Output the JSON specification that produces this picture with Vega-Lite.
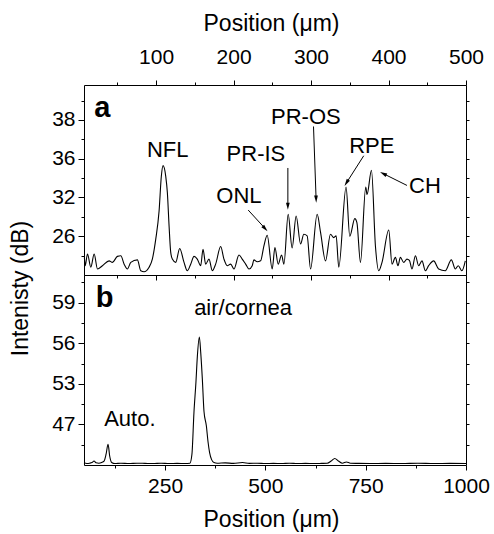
{
  "$schema": "https://vega.github.io/schema/vega-lite/v6.json",
  "padding": {"left": 8, "top": 11, "right": 5, "bottom": 5},
  "background": "white",
  "datasets": {
    "top": [
      {"pos": 7.5, "val": 9}, {"pos": 8.5, "val": 4.8}, {"pos": 11.5, "val": 10.8}, {"pos": 15.8, "val": 4.0},
      {"pos": 20.1, "val": 10.8}, {"pos": 24.4, "val": 3.1}, {"pos": 30.8, "val": 4.8}, {"pos": 39.4, "val": 7.3},
      {"pos": 43.7, "val": 6.5}, {"pos": 50.1, "val": 9.6}, {"pos": 54.5, "val": 9.9}, {"pos": 58.8, "val": 5.6},
      {"pos": 63, "val": 3.1}, {"pos": 67.4, "val": 6.5}, {"pos": 75.9, "val": 7.8}, {"pos": 80.3, "val": 2.2},
      {"pos": 84.5, "val": 1.7}, {"pos": 91, "val": 4.0}, {"pos": 95.2, "val": 8.2}, {"pos": 99.6, "val": 18.5},
      {"pos": 103.9, "val": 33}, {"pos": 106.8, "val": 50.9}, {"pos": 109, "val": 56.4}, {"pos": 112.5, "val": 50.9},
      {"pos": 114.6, "val": 42.4}, {"pos": 116.8, "val": 25.3}, {"pos": 118.9, "val": 11.8}, {"pos": 121, "val": 8.2},
      {"pos": 125.4, "val": 6.5}, {"pos": 130.5, "val": 13.7}, {"pos": 136.1, "val": 6.5}, {"pos": 140.3, "val": 2.2},
      {"pos": 144.7, "val": 5.6}, {"pos": 149, "val": 9.6}, {"pos": 153.2, "val": 8.2}, {"pos": 157.6, "val": 4.8},
      {"pos": 160.6, "val": 13.3}, {"pos": 164, "val": 5.6}, {"pos": 168.3, "val": 8.2}, {"pos": 172.6, "val": 2.2},
      {"pos": 176.9, "val": 5.6}, {"pos": 183.4, "val": 14.7}, {"pos": 187.6, "val": 8.2}, {"pos": 191.9, "val": 4.8},
      {"pos": 196.3, "val": 5.6}, {"pos": 200.5, "val": 3.1}, {"pos": 207, "val": 10.3}, {"pos": 211.2, "val": 8.2},
      {"pos": 215.6, "val": 5.6}, {"pos": 219.9, "val": 3.1}, {"pos": 224.1, "val": 4.8}, {"pos": 226.3, "val": 7.8},
      {"pos": 230.5, "val": 6.8}, {"pos": 234.9, "val": 7.3}, {"pos": 239.2, "val": 15}, {"pos": 243.4, "val": 20.5},
      {"pos": 249.9, "val": 3.1}, {"pos": 253.4, "val": 14.2}, {"pos": 257.6, "val": 5.6}, {"pos": 262, "val": 10.3},
      {"pos": 265, "val": 5.6}, {"pos": 270.5, "val": 31.3}, {"pos": 275.6, "val": 14}, {"pos": 280.8, "val": 30.4},
      {"pos": 286.5, "val": 16}, {"pos": 290.7, "val": 21}, {"pos": 295, "val": 20.2}, {"pos": 299.4, "val": 3.1},
      {"pos": 307.9, "val": 31.3}, {"pos": 312.3, "val": 22}, {"pos": 318.7, "val": 7.3}, {"pos": 325.1, "val": 21},
      {"pos": 329.4, "val": 19.3}, {"pos": 332.4, "val": 20.2}, {"pos": 335.8, "val": 4.0}, {"pos": 345.2, "val": 45.3},
      {"pos": 350, "val": 20}, {"pos": 356.5, "val": 29.1}, {"pos": 359.2, "val": 27}, {"pos": 363.8, "val": 6.5},
      {"pos": 370.6, "val": 45.3}, {"pos": 372.3, "val": 41.5}, {"pos": 378, "val": 54}, {"pos": 383.1, "val": 15},
      {"pos": 387.4, "val": 2.2}, {"pos": 391.6, "val": 6.5}, {"pos": 400.3, "val": 23.2}, {"pos": 404.5, "val": 5.6},
      {"pos": 408.9, "val": 9.1}, {"pos": 412.2, "val": 4.8}, {"pos": 415.3, "val": 9.1}, {"pos": 419.6, "val": 6.5},
      {"pos": 423.8, "val": 8.2}, {"pos": 427, "val": 7.5}, {"pos": 430.3, "val": 3.1}, {"pos": 434.7, "val": 9.9},
      {"pos": 438.9, "val": 4.8}, {"pos": 443.2, "val": 7.3}, {"pos": 447.6, "val": 2.2}, {"pos": 451.8, "val": 4.8},
      {"pos": 458.3, "val": 7.3}, {"pos": 464.7, "val": 3.1}, {"pos": 473.3, "val": 2.2}, {"pos": 481.1, "val": 7.8},
      {"pos": 486.2, "val": 3.1}, {"pos": 490, "val": 4.8}, {"pos": 494.7, "val": 2.2}, {"pos": 499.1, "val": 7.3}
    ],
    "bottom": [
      {"pos": 48, "val": 12}, {"pos": 55, "val": 8}, {"pos": 62, "val": 10}, {"pos": 68, "val": 14},
      {"pos": 73, "val": 22}, {"pos": 78, "val": 12}, {"pos": 85, "val": 10}, {"pos": 92, "val": 14},
      {"pos": 98, "val": 22}, {"pos": 103, "val": 60}, {"pos": 108, "val": 115}, {"pos": 112, "val": 50},
      {"pos": 117, "val": 14}, {"pos": 125, "val": 8}, {"pos": 140, "val": 10}, {"pos": 160, "val": 8},
      {"pos": 180, "val": 10}, {"pos": 200, "val": 9}, {"pos": 220, "val": 8}, {"pos": 240, "val": 10},
      {"pos": 260, "val": 8}, {"pos": 280, "val": 9}, {"pos": 300, "val": 8}, {"pos": 312, "val": 10},
      {"pos": 317, "val": 60}, {"pos": 322, "val": 290}, {"pos": 327, "val": 460}, {"pos": 330.5, "val": 602},
      {"pos": 335.5, "val": 709}, {"pos": 339, "val": 620}, {"pos": 343, "val": 473}, {"pos": 347, "val": 298},
      {"pos": 353, "val": 216}, {"pos": 357, "val": 130}, {"pos": 361, "val": 69}, {"pos": 366, "val": 30},
      {"pos": 372, "val": 14}, {"pos": 380, "val": 10}, {"pos": 400, "val": 12}, {"pos": 420, "val": 9},
      {"pos": 443, "val": 14}, {"pos": 460, "val": 9}, {"pos": 480, "val": 10}, {"pos": 500, "val": 8},
      {"pos": 520, "val": 9}, {"pos": 540, "val": 8}, {"pos": 560, "val": 10}, {"pos": 580, "val": 8},
      {"pos": 600, "val": 9}, {"pos": 620, "val": 8}, {"pos": 640, "val": 9}, {"pos": 654, "val": 10},
      {"pos": 664, "val": 22}, {"pos": 673, "val": 36}, {"pos": 682, "val": 22}, {"pos": 692, "val": 10},
      {"pos": 702, "val": 17}, {"pos": 712, "val": 10}, {"pos": 730, "val": 9}, {"pos": 760, "val": 8},
      {"pos": 800, "val": 9}, {"pos": 840, "val": 8}, {"pos": 880, "val": 10}, {"pos": 920, "val": 8},
      {"pos": 960, "val": 9}, {"pos": 1000, "val": 8}
    ],
    "toplabels": [
      {"x": 115.1, "y": 60.9, "label": "NFL"},
      {"x": 207, "y": 36.9, "label": "ONL"},
      {"x": 228.9, "y": 58.6, "label": "PR-IS"},
      {"x": 293.3, "y": 77.8, "label": "PR-OS"},
      {"x": 378.4, "y": 62.9, "label": "RPE"},
      {"x": 447, "y": 42.4, "label": "CH"}
    ],
    "toparrows": [
      {"label": "ONL", "x": 218.9, "y": 33.5, "x2": 240.0, "y2": 24.3},
      {"label": "PR-IS", "x": 270.1, "y": 55.2, "x2": 270.1, "y2": 35.9},
      {"label": "PR-OS", "x": 303.2, "y": 76.6, "x2": 306.5, "y2": 39.6},
      {"label": "RPE", "x": 368.0, "y": 61.5, "x2": 346.3, "y2": 47.9},
      {"label": "CH", "x": 423.8, "y": 46.2, "x2": 394.2, "y2": 52.1}
    ],
    "toppanel": [{"x": 20.1, "y": 81.7, "label": "a"}],
    "bottomlabels": [
      {"x": 444.4, "y": 831.7, "label": "air/cornea"},
      {"x": 162.3, "y": 215.6, "label": "Auto."}
    ],
    "bottompanel": [{"x": 77.3, "y": 877.4, "label": "b"}]
  },
  "spacing": 0,
  "bounds": "flush",
  "vconcat": [
    {
      "width": 382,
      "height": 190,
      "resolve": {"axis": {"x": "independent", "y": "independent"}},
      "layer": [
        {
          "data": {"name": "top"},
          "mark": {"type": "line", "color": "black", "strokeWidth": 1.1, "interpolate": "monotone"},
          "encoding": {
            "x": {
              "field": "pos", "type": "quantitative",
              "scale": {"domain": [7, 500], "nice": false, "zero": false},
              "axis": {
                "orient": "top", "title": "Position (μm)", "format": "d",
                "values": [50, 100, 150, 200, 250, 300, 350, 400, 450, 500],
                "labelExpr": "datum.value % 100 == 0 ? datum.label : ''",
                "tickSize": {"condition": {"test": "datum.value % 100 == 0", "value": 5}, "value": 3},
                "labelBaseline": "alphabetic", "labelPadding": 17,
                "titleX": 187, "titleY": -55, "titleAlign": "center", "titleBaseline": "alphabetic"
              }
            },
            "y": {
              "field": "val", "type": "quantitative",
              "scale": {"domain": [0, 98], "nice": false, "zero": false},
              "axis": {
                "orient": "left", "title": "Intenisty (dB)",
                "values": [10, 20, 30, 40, 50, 60, 70, 80, 90],
                "labelExpr": "datum.value == 20 ? '26' : datum.value == 40 ? '32' : datum.value == 60 ? '36' : datum.value == 80 ? '38' : ''",
                "tickSize": {"condition": {"test": "datum.value % 20 == 0", "value": 6}, "value": 3},
                "labelPadding": 3,
                "titleX": -57, "titleY": 203, "titleAlign": "center", "titleBaseline": "alphabetic", "titleAngle": -90
              }
            }
          }
        },
        {
          "data": {"name": "top"},
          "mark": {"type": "line", "color": "black", "strokeOpacity": 0},
          "encoding": {
            "x": {
              "field": "pos", "type": "quantitative",
              "axis": {
                "orient": "bottom", "title": null, "labels": false,
                "values": [50, 100, 150, 200, 250, 300, 350, 400, 450, 500],
                "tickSize": {"condition": {"test": "datum.value % 100 == 0", "value": 5}, "value": 3}
              }
            },
            "y": {
              "field": "val", "type": "quantitative",
              "axis": {
                "orient": "right", "title": null, "labels": false,
                "values": [10, 20, 30, 40, 50, 60, 70, 80, 90], "tickSize": 3
              }
            }
          }
        },
        {
          "data": {"name": "toparrows"},
          "mark": {"type": "rule", "color": "black", "strokeWidth": 1},
          "encoding": {
            "x": {"field": "x", "type": "quantitative", "axis": null},
            "y": {"field": "y", "type": "quantitative", "axis": null},
            "x2": {"field": "x2"},
            "y2": {"field": "y2"}
          }
        },
        {
          "data": {"name": "toparrows"},
          "mark": {"type": "point", "shape": "M0,-1L0.42,0.6L-0.42,0.6Z", "filled": true, "color": "black", "size": 80, "opacity": 1, "strokeWidth": 0},
          "encoding": {
            "x": {"field": "x2", "type": "quantitative", "axis": null},
            "y": {"field": "y2", "type": "quantitative", "axis": null},
            "angle": {
              "condition": [
                {"test": "datum.label == 'ONL'", "value": 138},
                {"test": "datum.label == 'PR-IS'", "value": 180},
                {"test": "datum.label == 'PR-OS'", "value": 178},
                {"test": "datum.label == 'RPE'", "value": 212}
              ],
              "value": 297
            }
          }
        },
        {
          "data": {"name": "toplabels"},
          "mark": {"type": "text", "fontSize": 22, "align": "center", "baseline": "alphabetic", "color": "black"},
          "encoding": {
            "x": {"field": "x", "type": "quantitative", "axis": null},
            "y": {"field": "y", "type": "quantitative", "axis": null},
            "text": {"field": "label"}
          }
        },
        {
          "data": {"name": "toppanel"},
          "mark": {"type": "text", "fontSize": 29, "fontWeight": "bold", "align": "left", "baseline": "alphabetic", "color": "black"},
          "encoding": {
            "x": {"field": "x", "type": "quantitative", "axis": null},
            "y": {"field": "y", "type": "quantitative", "axis": null},
            "text": {"field": "label"}
          }
        }
      ]
    },
    {
      "width": 382,
      "height": 190,
      "resolve": {"axis": {"x": "independent", "y": "independent"}},
      "layer": [
        {
          "data": {"name": "bottom"},
          "mark": {"type": "line", "color": "black", "strokeWidth": 1.1, "interpolate": "monotone"},
          "encoding": {
            "x": {
              "field": "pos", "type": "quantitative",
              "scale": {"domain": [48, 1000], "nice": false, "zero": false},
              "axis": {
                "orient": "bottom", "title": "Position (μm)", "format": "d",
                "values": [125, 250, 375, 500, 625, 750, 875, 1000],
                "labelExpr": "datum.value % 250 == 0 ? datum.label : ''",
                "tickSize": {"condition": {"test": "datum.value % 250 == 0", "value": 5}, "value": 3},
                "labelBaseline": "alphabetic", "labelPadding": 22,
                "titleX": 187, "titleY": 61, "titleAlign": "center", "titleBaseline": "alphabetic"
              }
            },
            "y": {
              "field": "val", "type": "quantitative",
              "scale": {"domain": [0, 1053], "nice": false, "zero": false},
              "axis": {
                "orient": "left", "title": null,
                "values": [112.5, 225, 337.5, 450, 562.5, 675, 787.5, 900, 1012.5],
                "labelExpr": "datum.value == 225 ? '47' : datum.value == 450 ? '53' : datum.value == 675 ? '56' : datum.value == 900 ? '59' : ''",
                "tickSize": {"condition": {"test": "datum.value % 225 == 0", "value": 6}, "value": 3},
                "labelPadding": 3
              }
            }
          }
        },
        {
          "data": {"name": "bottom"},
          "mark": {"type": "line", "color": "black", "strokeOpacity": 0},
          "encoding": {
            "x": {"field": "pos", "type": "quantitative", "axis": null},
            "y": {
              "field": "val", "type": "quantitative",
              "axis": {
                "orient": "right", "title": null, "labels": false,
                "values": [112.5, 225, 337.5, 450, 562.5, 675, 787.5, 900, 1012.5], "tickSize": 3
              }
            }
          }
        },
        {
          "data": {"name": "bottomlabels"},
          "mark": {"type": "text", "fontSize": 22, "align": "center", "baseline": "alphabetic", "color": "black"},
          "encoding": {
            "x": {"field": "x", "type": "quantitative", "axis": null},
            "y": {"field": "y", "type": "quantitative", "axis": null},
            "text": {"field": "label"}
          }
        },
        {
          "data": {"name": "bottompanel"},
          "mark": {"type": "text", "fontSize": 29, "fontWeight": "bold", "align": "left", "baseline": "alphabetic", "color": "black"},
          "encoding": {
            "x": {"field": "x", "type": "quantitative", "axis": null},
            "y": {"field": "y", "type": "quantitative", "axis": null},
            "text": {"field": "label"}
          }
        }
      ]
    }
  ],
  "config": {
    "font": "Liberation Sans",
    "view": {"stroke": "black", "strokeWidth": 1},
    "axis": {
      "domain": false, "grid": false,
      "tickColor": "black", "tickWidth": 1,
      "labelColor": "black", "labelFont": "Liberation Sans", "labelFontSize": 21,
      "labelOverlap": false, "labelBound": false, "labelFlush": false,
      "titleColor": "black", "titleFont": "Liberation Sans", "titleFontSize": 23, "titleFontWeight": "normal"
    },
    "text": {"font": "Liberation Sans"}
  }
}
